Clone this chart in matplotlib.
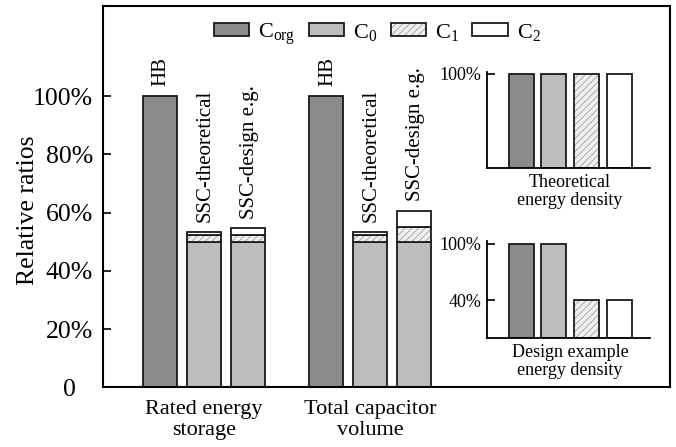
import numpy as np
import matplotlib
matplotlib.use("Agg")
import matplotlib.pyplot as plt
import matplotlib.transforms as mtransforms
from matplotlib.patches import Patch

plt.rcParams['font.family'] = ['Liberation Serif', 'DejaVu Serif']
plt.rcParams['mathtext.fontset'] = 'custom'
plt.rcParams['mathtext.rm'] = 'Liberation Serif'
plt.rcParams['mathtext.it'] = 'Liberation Serif:italic'
plt.rcParams['hatch.linewidth'] = 0.6

# main chart data (percent of the HB reference)
groups = ['Rated energy\nstorage', 'Total capacitor\nvolume']
bar_names = ['HB', 'SSC-theoretical', 'SSC-design e.g.',
             'HB', 'SSC-theoretical', 'SSC-design e.g.']
c_org = [100, 0, 0, 100, 0, 0]
c0 = [0, 50, 50, 0, 50, 50]
c1 = [0, 2.3, 2.3, 0, 2.3, 5.2]
c2 = [0, 1.1, 2.3, 0, 1.1, 5.5]

# inset data
density_cats = ['C_org', 'C0', 'C1', 'C2']
theo_density = [100, 100, 100, 100]
design_density = [100, 100, 40, 40]

series_labels = [r'C$_{\mathrm{org}}$', r'C$_{\mathrm{0}}$',
                 r'C$_{\mathrm{1}}$', r'C$_{\mathrm{2}}$']
col_org = '#8b8b8b'
col_c0 = '#bdbdbd'
col_c1 = '#efefef'
col_c2 = '#ffffff'
hatch_col = '#a0a0a0'
edge = '#1a1a1a'
lw = 1.3

fig = plt.figure(figsize=(6.76, 4.47), dpi=100)
ax = fig.add_axes([0.152, 0.1336, 0.8387, 0.8530])

x = np.array([0, 1, 2, 3.78, 4.78, 5.78])
w = 0.775


def stacked(axis, xs, vals, bottoms, color, hatched=False, width=w):
    xs = np.asarray(xs, float)
    vals = np.asarray(vals, float)
    bottoms = np.asarray(bottoms, float)
    m = vals > 0
    if hatched:
        axis.bar(xs[m], vals[m], width, bottom=bottoms[m], color=color,
                 edgecolor=hatch_col, hatch='/////', linewidth=0)
        axis.bar(xs[m], vals[m], width, bottom=bottoms[m], fill=False,
                 edgecolor=edge, linewidth=lw)
    else:
        axis.bar(xs[m], vals[m], width, bottom=bottoms[m], color=color,
                 edgecolor=edge, linewidth=lw)


b = np.zeros(len(x))
stacked(ax, x, c_org, b, col_org)
b = b + np.array(c_org)
stacked(ax, x, c0, b, col_c0)
b = b + np.array(c0)
stacked(ax, x, c1, b, col_c1, hatched=True)
b = b + np.array(c1)
stacked(ax, x, c2, b, col_c2)
b = b + np.array(c2)

for xi, top, name in zip(x, b, bar_names):
    ax.annotate(name, (xi, top), xytext=(1, 7), textcoords='offset points',
                rotation=90, ha='center', va='bottom', fontsize=15)

ax.set_xlim(-1.295, 11.59)
ax.set_ylim(0, 131)
ax.set_yticks([0, 20, 40, 60, 80, 100])
ax.set_yticklabels(['0', '20%', '40%', '60%', '80%', '100%'])
ax.set_xticks([x[1], x[4]])
ax.set_xticklabels(groups, linespacing=1.15)
ax.tick_params(axis='y', direction='in', length=6, width=1.2, pad=7,
               labelsize=18.5)
ax.tick_params(axis='x', length=0, pad=9, labelsize=16)
# the lone "0" sits a little left of the other labels
lab0 = ax.get_yticklabels()[0]
lab0.set_transform(lab0.get_transform() +
                   mtransforms.ScaledTranslation(-0.17, 0, fig.dpi_scale_trans))
for s in ax.spines.values():
    s.set_linewidth(1.5)
ax.set_ylabel('Relative ratios', fontsize=18.5)
ax.yaxis.set_label_coords(-0.112, 0.465)

# legend
h_org = Patch(facecolor=col_org, edgecolor=edge, linewidth=lw)
h_c0 = Patch(facecolor=col_c0, edgecolor=edge, linewidth=lw)
h_c1 = (Patch(facecolor=col_c1, edgecolor=hatch_col, hatch='/////', linewidth=0),
        Patch(fill=False, edgecolor=edge, linewidth=lw))
h_c2 = Patch(facecolor=col_c2, edgecolor=edge, linewidth=lw)
fig.legend([h_org, h_c0, h_c1, h_c2], series_labels, loc='center',
           bbox_to_anchor=(0.5580, 0.9240), ncol=4, frameon=False,
           fontsize=16, handlelength=1.6, handleheight=0.5,
           handletextpad=0.4, columnspacing=0.6)

# insets: energy density
ix = np.arange(4)
iw = 0.76
colors = [col_org, col_c0, col_c1, col_c2]


def inset(rect, vals, ticks, ylim, label):
    a = fig.add_axes(rect)
    for i, v in enumerate(vals):
        stacked(a, [ix[i]], [v], [0], colors[i], hatched=(i == 2), width=iw)
    a.set_xlim(-1.05, 3.94)
    a.set_ylim(0, ylim)
    a.set_yticks(ticks)
    a.set_yticklabels(['%d%%' % t for t in ticks])
    a.set_xticks([])
    a.spines['top'].set_visible(False)
    a.spines['right'].set_visible(False)
    for s in ('left', 'bottom'):
        a.spines[s].set_linewidth(1.3)
    a.tick_params(axis='y', direction='in', length=6, width=1.2, pad=4,
                  labelsize=13)
    a.set_xlabel(label, fontsize=13, linespacing=1.05)
    a.xaxis.set_label_coords((ix.mean() + 1.05) / 4.99, -0.07)
    a.xaxis.label.set_va('top')
    a.patch.set_alpha(0)
    return a


inset([0.720, 0.6248, 0.2416, 0.2134], theo_density, [100], 101.5,
      'Theoretical\nenergy density')
inset([0.720, 0.2445, 0.2416, 0.2170], design_density, [40, 100], 103.5,
      'Design example\nenergy density')

fig.savefig('out.png', dpi=100)
